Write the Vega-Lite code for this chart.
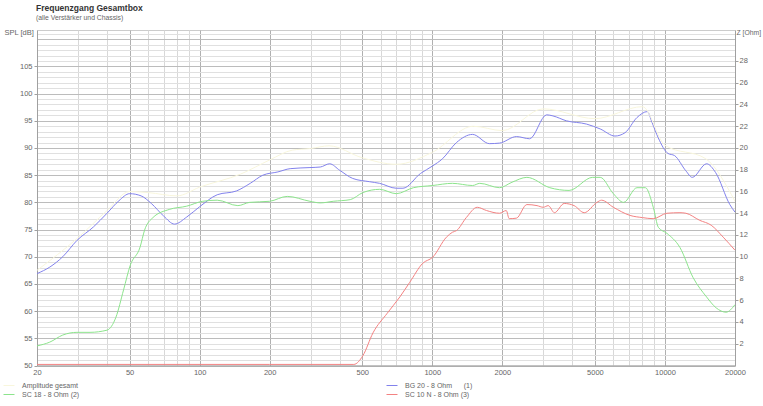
{
  "$schema": "https://vega.github.io/schema/vega-lite/v6.json",
  "width": 698,
  "height": 335.5,
  "autosize": {"type": "none"},
  "padding": {"left": 37, "top": 30, "right": 28, "bottom": 40.5},
  "background": "#ffffff",
  "config": {
    "font": "Liberation Sans",
    "view": {"stroke": "#cccccc", "strokeWidth": 1},
    "axis": {"labelFont": "Liberation Sans", "labelFontSize": 7.5, "labelColor": "#666666", "titleFont": "Liberation Sans", "titleFontWeight": "normal", "titleFontSize": 7.5, "titleColor": "#666666"}
  },
  "title": {
    "text": "Frequenzgang Gesamtbox",
    "subtitle": "(alle Verstärker und Chassis)",
    "anchor": "start",
    "frame": "group",
    "dx": -1,
    "fontSize": 8.5,
    "fontWeight": "bold",
    "color": "#333333",
    "subtitleFontSize": 6.8,
    "subtitleColor": "#666666",
    "subtitlePadding": 3,
    "offset": 6
  },
  "datasets": {
    "curves": [
      {"s": "BG 20 - 8 Ohm\u00a0\u00a0\u00a0\u00a0\u00a0\u00a0(1)", "f": 20, "v": 66.9},
      {"s": "BG 20 - 8 Ohm\u00a0\u00a0\u00a0\u00a0\u00a0\u00a0(1)", "f": 22.7, "v": 68.1},
      {"s": "BG 20 - 8 Ohm\u00a0\u00a0\u00a0\u00a0\u00a0\u00a0(1)", "f": 25.8, "v": 70},
      {"s": "BG 20 - 8 Ohm\u00a0\u00a0\u00a0\u00a0\u00a0\u00a0(1)", "f": 29.7, "v": 73},
      {"s": "BG 20 - 8 Ohm\u00a0\u00a0\u00a0\u00a0\u00a0\u00a0(1)", "f": 35, "v": 75.5},
      {"s": "BG 20 - 8 Ohm\u00a0\u00a0\u00a0\u00a0\u00a0\u00a0(1)", "f": 40, "v": 78},
      {"s": "BG 20 - 8 Ohm\u00a0\u00a0\u00a0\u00a0\u00a0\u00a0(1)", "f": 45, "v": 80.3},
      {"s": "BG 20 - 8 Ohm\u00a0\u00a0\u00a0\u00a0\u00a0\u00a0(1)", "f": 50, "v": 81.6},
      {"s": "BG 20 - 8 Ohm\u00a0\u00a0\u00a0\u00a0\u00a0\u00a0(1)", "f": 56, "v": 81.2},
      {"s": "BG 20 - 8 Ohm\u00a0\u00a0\u00a0\u00a0\u00a0\u00a0(1)", "f": 62, "v": 79.8},
      {"s": "BG 20 - 8 Ohm\u00a0\u00a0\u00a0\u00a0\u00a0\u00a0(1)", "f": 70, "v": 77.5},
      {"s": "BG 20 - 8 Ohm\u00a0\u00a0\u00a0\u00a0\u00a0\u00a0(1)", "f": 78, "v": 76},
      {"s": "BG 20 - 8 Ohm\u00a0\u00a0\u00a0\u00a0\u00a0\u00a0(1)", "f": 88, "v": 77.3},
      {"s": "BG 20 - 8 Ohm\u00a0\u00a0\u00a0\u00a0\u00a0\u00a0(1)", "f": 100, "v": 79.2},
      {"s": "BG 20 - 8 Ohm\u00a0\u00a0\u00a0\u00a0\u00a0\u00a0(1)", "f": 119, "v": 81.4},
      {"s": "BG 20 - 8 Ohm\u00a0\u00a0\u00a0\u00a0\u00a0\u00a0(1)", "f": 144, "v": 82.1},
      {"s": "BG 20 - 8 Ohm\u00a0\u00a0\u00a0\u00a0\u00a0\u00a0(1)", "f": 165, "v": 83.5},
      {"s": "BG 20 - 8 Ohm\u00a0\u00a0\u00a0\u00a0\u00a0\u00a0(1)", "f": 187, "v": 85},
      {"s": "BG 20 - 8 Ohm\u00a0\u00a0\u00a0\u00a0\u00a0\u00a0(1)", "f": 217, "v": 85.6},
      {"s": "BG 20 - 8 Ohm\u00a0\u00a0\u00a0\u00a0\u00a0\u00a0(1)", "f": 245, "v": 86.2},
      {"s": "BG 20 - 8 Ohm\u00a0\u00a0\u00a0\u00a0\u00a0\u00a0(1)", "f": 298, "v": 86.4},
      {"s": "BG 20 - 8 Ohm\u00a0\u00a0\u00a0\u00a0\u00a0\u00a0(1)", "f": 330, "v": 86.5},
      {"s": "BG 20 - 8 Ohm\u00a0\u00a0\u00a0\u00a0\u00a0\u00a0(1)", "f": 362, "v": 87.1},
      {"s": "BG 20 - 8 Ohm\u00a0\u00a0\u00a0\u00a0\u00a0\u00a0(1)", "f": 400, "v": 85.9},
      {"s": "BG 20 - 8 Ohm\u00a0\u00a0\u00a0\u00a0\u00a0\u00a0(1)", "f": 455, "v": 84.4},
      {"s": "BG 20 - 8 Ohm\u00a0\u00a0\u00a0\u00a0\u00a0\u00a0(1)", "f": 538, "v": 83.8},
      {"s": "BG 20 - 8 Ohm\u00a0\u00a0\u00a0\u00a0\u00a0\u00a0(1)", "f": 594, "v": 83.5},
      {"s": "BG 20 - 8 Ohm\u00a0\u00a0\u00a0\u00a0\u00a0\u00a0(1)", "f": 700, "v": 82.6},
      {"s": "BG 20 - 8 Ohm\u00a0\u00a0\u00a0\u00a0\u00a0\u00a0(1)", "f": 748, "v": 82.6},
      {"s": "BG 20 - 8 Ohm\u00a0\u00a0\u00a0\u00a0\u00a0\u00a0(1)", "f": 889, "v": 85.3},
      {"s": "BG 20 - 8 Ohm\u00a0\u00a0\u00a0\u00a0\u00a0\u00a0(1)", "f": 1003, "v": 86.7},
      {"s": "BG 20 - 8 Ohm\u00a0\u00a0\u00a0\u00a0\u00a0\u00a0(1)", "f": 1105, "v": 88},
      {"s": "BG 20 - 8 Ohm\u00a0\u00a0\u00a0\u00a0\u00a0\u00a0(1)", "f": 1270, "v": 91},
      {"s": "BG 20 - 8 Ohm\u00a0\u00a0\u00a0\u00a0\u00a0\u00a0(1)", "f": 1490, "v": 92.5},
      {"s": "BG 20 - 8 Ohm\u00a0\u00a0\u00a0\u00a0\u00a0\u00a0(1)", "f": 1760, "v": 90.8},
      {"s": "BG 20 - 8 Ohm\u00a0\u00a0\u00a0\u00a0\u00a0\u00a0(1)", "f": 1945, "v": 90.9},
      {"s": "BG 20 - 8 Ohm\u00a0\u00a0\u00a0\u00a0\u00a0\u00a0(1)", "f": 2300, "v": 92.1},
      {"s": "BG 20 - 8 Ohm\u00a0\u00a0\u00a0\u00a0\u00a0\u00a0(1)", "f": 2620, "v": 91.7},
      {"s": "BG 20 - 8 Ohm\u00a0\u00a0\u00a0\u00a0\u00a0\u00a0(1)", "f": 3100, "v": 96.1},
      {"s": "BG 20 - 8 Ohm\u00a0\u00a0\u00a0\u00a0\u00a0\u00a0(1)", "f": 3300, "v": 95.9},
      {"s": "BG 20 - 8 Ohm\u00a0\u00a0\u00a0\u00a0\u00a0\u00a0(1)", "f": 3770, "v": 95},
      {"s": "BG 20 - 8 Ohm\u00a0\u00a0\u00a0\u00a0\u00a0\u00a0(1)", "f": 4600, "v": 94.4},
      {"s": "BG 20 - 8 Ohm\u00a0\u00a0\u00a0\u00a0\u00a0\u00a0(1)", "f": 5270, "v": 93.5},
      {"s": "BG 20 - 8 Ohm\u00a0\u00a0\u00a0\u00a0\u00a0\u00a0(1)", "f": 6100, "v": 92.2},
      {"s": "BG 20 - 8 Ohm\u00a0\u00a0\u00a0\u00a0\u00a0\u00a0(1)", "f": 6730, "v": 92.8},
      {"s": "BG 20 - 8 Ohm\u00a0\u00a0\u00a0\u00a0\u00a0\u00a0(1)", "f": 7580, "v": 95.6},
      {"s": "BG 20 - 8 Ohm\u00a0\u00a0\u00a0\u00a0\u00a0\u00a0(1)", "f": 8400, "v": 96.7},
      {"s": "BG 20 - 8 Ohm\u00a0\u00a0\u00a0\u00a0\u00a0\u00a0(1)", "f": 8800, "v": 94.7},
      {"s": "BG 20 - 8 Ohm\u00a0\u00a0\u00a0\u00a0\u00a0\u00a0(1)", "f": 9350, "v": 91.9},
      {"s": "BG 20 - 8 Ohm\u00a0\u00a0\u00a0\u00a0\u00a0\u00a0(1)", "f": 10300, "v": 89},
      {"s": "BG 20 - 8 Ohm\u00a0\u00a0\u00a0\u00a0\u00a0\u00a0(1)", "f": 11000, "v": 88.6},
      {"s": "BG 20 - 8 Ohm\u00a0\u00a0\u00a0\u00a0\u00a0\u00a0(1)", "f": 12300, "v": 85.8},
      {"s": "BG 20 - 8 Ohm\u00a0\u00a0\u00a0\u00a0\u00a0\u00a0(1)", "f": 13100, "v": 84.6},
      {"s": "BG 20 - 8 Ohm\u00a0\u00a0\u00a0\u00a0\u00a0\u00a0(1)", "f": 15100, "v": 87.1},
      {"s": "BG 20 - 8 Ohm\u00a0\u00a0\u00a0\u00a0\u00a0\u00a0(1)", "f": 16500, "v": 85.5},
      {"s": "BG 20 - 8 Ohm\u00a0\u00a0\u00a0\u00a0\u00a0\u00a0(1)", "f": 19000, "v": 79.6},
      {"s": "BG 20 - 8 Ohm\u00a0\u00a0\u00a0\u00a0\u00a0\u00a0(1)", "f": 20000, "v": 78.2},

      {"s": "SC 18 - 8 Ohm (2)", "f": 20, "v": 53.6},
      {"s": "SC 18 - 8 Ohm (2)", "f": 22.7, "v": 54.3},
      {"s": "SC 18 - 8 Ohm (2)", "f": 25.8, "v": 55.6},
      {"s": "SC 18 - 8 Ohm (2)", "f": 29.7, "v": 56.1},
      {"s": "SC 18 - 8 Ohm (2)", "f": 33.8, "v": 56.1},
      {"s": "SC 18 - 8 Ohm (2)", "f": 40, "v": 56.5},
      {"s": "SC 18 - 8 Ohm (2)", "f": 43.7, "v": 58.9},
      {"s": "SC 18 - 8 Ohm (2)", "f": 47.1, "v": 63.9},
      {"s": "SC 18 - 8 Ohm (2)", "f": 50.3, "v": 68.4},
      {"s": "SC 18 - 8 Ohm (2)", "f": 55.5, "v": 71.8},
      {"s": "SC 18 - 8 Ohm (2)", "f": 58, "v": 74.9},
      {"s": "SC 18 - 8 Ohm (2)", "f": 63, "v": 77.2},
      {"s": "SC 18 - 8 Ohm (2)", "f": 74, "v": 78.7},
      {"s": "SC 18 - 8 Ohm (2)", "f": 88, "v": 79.3},
      {"s": "SC 18 - 8 Ohm (2)", "f": 103, "v": 80.2},
      {"s": "SC 18 - 8 Ohm (2)", "f": 119, "v": 80.4},
      {"s": "SC 18 - 8 Ohm (2)", "f": 146, "v": 79.4},
      {"s": "SC 18 - 8 Ohm (2)", "f": 164, "v": 80},
      {"s": "SC 18 - 8 Ohm (2)", "f": 200, "v": 80.2},
      {"s": "SC 18 - 8 Ohm (2)", "f": 238, "v": 81.1},
      {"s": "SC 18 - 8 Ohm (2)", "f": 298, "v": 80.2},
      {"s": "SC 18 - 8 Ohm (2)", "f": 330, "v": 79.9},
      {"s": "SC 18 - 8 Ohm (2)", "f": 375, "v": 80.2},
      {"s": "SC 18 - 8 Ohm (2)", "f": 444, "v": 80.5},
      {"s": "SC 18 - 8 Ohm (2)", "f": 503, "v": 81.8},
      {"s": "SC 18 - 8 Ohm (2)", "f": 594, "v": 82.4},
      {"s": "SC 18 - 8 Ohm (2)", "f": 700, "v": 81.6},
      {"s": "SC 18 - 8 Ohm (2)", "f": 830, "v": 82.7},
      {"s": "SC 18 - 8 Ohm (2)", "f": 1003, "v": 83.1},
      {"s": "SC 18 - 8 Ohm (2)", "f": 1220, "v": 83.5},
      {"s": "SC 18 - 8 Ohm (2)", "f": 1490, "v": 83.1},
      {"s": "SC 18 - 8 Ohm (2)", "f": 1600, "v": 83.5},
      {"s": "SC 18 - 8 Ohm (2)", "f": 1945, "v": 82.7},
      {"s": "SC 18 - 8 Ohm (2)", "f": 2200, "v": 83.7},
      {"s": "SC 18 - 8 Ohm (2)", "f": 2550, "v": 84.6},
      {"s": "SC 18 - 8 Ohm (2)", "f": 3200, "v": 82.7},
      {"s": "SC 18 - 8 Ohm (2)", "f": 3870, "v": 82.2},
      {"s": "SC 18 - 8 Ohm (2)", "f": 4890, "v": 84.6},
      {"s": "SC 18 - 8 Ohm (2)", "f": 5270, "v": 84.6},
      {"s": "SC 18 - 8 Ohm (2)", "f": 6000, "v": 81.6},
      {"s": "SC 18 - 8 Ohm (2)", "f": 6640, "v": 80},
      {"s": "SC 18 - 8 Ohm (2)", "f": 7580, "v": 82.7},
      {"s": "SC 18 - 8 Ohm (2)", "f": 8240, "v": 82.7},
      {"s": "SC 18 - 8 Ohm (2)", "f": 8920, "v": 79},
      {"s": "SC 18 - 8 Ohm (2)", "f": 9370, "v": 75.4},
      {"s": "SC 18 - 8 Ohm (2)", "f": 10200, "v": 74.3},
      {"s": "SC 18 - 8 Ohm (2)", "f": 11600, "v": 71.7},
      {"s": "SC 18 - 8 Ohm (2)", "f": 13200, "v": 66.2},
      {"s": "SC 18 - 8 Ohm (2)", "f": 15100, "v": 62.6},
      {"s": "SC 18 - 8 Ohm (2)", "f": 16600, "v": 60.6},
      {"s": "SC 18 - 8 Ohm (2)", "f": 18300, "v": 59.8},
      {"s": "SC 18 - 8 Ohm (2)", "f": 20000, "v": 61.2},

      {"s": "SC 10 N - 8 Ohm (3)", "f": 20, "v": 50.2},
      {"s": "SC 10 N - 8 Ohm (3)", "f": 200, "v": 50.2},
      {"s": "SC 10 N - 8 Ohm (3)", "f": 460, "v": 50.2},
      {"s": "SC 10 N - 8 Ohm (3)", "f": 503, "v": 51.8},
      {"s": "SC 10 N - 8 Ohm (3)", "f": 556, "v": 56},
      {"s": "SC 10 N - 8 Ohm (3)", "f": 640, "v": 59.6},
      {"s": "SC 10 N - 8 Ohm (3)", "f": 725, "v": 62.6},
      {"s": "SC 10 N - 8 Ohm (3)", "f": 800, "v": 65.3},
      {"s": "SC 10 N - 8 Ohm (3)", "f": 910, "v": 68.8},
      {"s": "SC 10 N - 8 Ohm (3)", "f": 1003, "v": 69.9},
      {"s": "SC 10 N - 8 Ohm (3)", "f": 1150, "v": 73.6},
      {"s": "SC 10 N - 8 Ohm (3)", "f": 1220, "v": 74.5},
      {"s": "SC 10 N - 8 Ohm (3)", "f": 1270, "v": 74.8},
      {"s": "SC 10 N - 8 Ohm (3)", "f": 1400, "v": 77.2},
      {"s": "SC 10 N - 8 Ohm (3)", "f": 1560, "v": 79.1},
      {"s": "SC 10 N - 8 Ohm (3)", "f": 1710, "v": 78.5},
      {"s": "SC 10 N - 8 Ohm (3)", "f": 1945, "v": 78},
      {"s": "SC 10 N - 8 Ohm (3)", "f": 2080, "v": 78.5},
      {"s": "SC 10 N - 8 Ohm (3)", "f": 2140, "v": 77},
      {"s": "SC 10 N - 8 Ohm (3)", "f": 2300, "v": 77.1},
      {"s": "SC 10 N - 8 Ohm (3)", "f": 2550, "v": 79.6},
      {"s": "SC 10 N - 8 Ohm (3)", "f": 2820, "v": 79.4},
      {"s": "SC 10 N - 8 Ohm (3)", "f": 3000, "v": 79.1},
      {"s": "SC 10 N - 8 Ohm (3)", "f": 3150, "v": 79.4},
      {"s": "SC 10 N - 8 Ohm (3)", "f": 3350, "v": 78.1},
      {"s": "SC 10 N - 8 Ohm (3)", "f": 3690, "v": 79.8},
      {"s": "SC 10 N - 8 Ohm (3)", "f": 4070, "v": 79.4},
      {"s": "SC 10 N - 8 Ohm (3)", "f": 4500, "v": 78.1},
      {"s": "SC 10 N - 8 Ohm (3)", "f": 5100, "v": 80},
      {"s": "SC 10 N - 8 Ohm (3)", "f": 5340, "v": 80.4},
      {"s": "SC 10 N - 8 Ohm (3)", "f": 6000, "v": 79.1},
      {"s": "SC 10 N - 8 Ohm (3)", "f": 7080, "v": 77.6},
      {"s": "SC 10 N - 8 Ohm (3)", "f": 8000, "v": 77.2},
      {"s": "SC 10 N - 8 Ohm (3)", "f": 8900, "v": 77},
      {"s": "SC 10 N - 8 Ohm (3)", "f": 10200, "v": 78},
      {"s": "SC 10 N - 8 Ohm (3)", "f": 11600, "v": 78.1},
      {"s": "SC 10 N - 8 Ohm (3)", "f": 12300, "v": 78},
      {"s": "SC 10 N - 8 Ohm (3)", "f": 14100, "v": 76.7},
      {"s": "SC 10 N - 8 Ohm (3)", "f": 15800, "v": 75.8},
      {"s": "SC 10 N - 8 Ohm (3)", "f": 17800, "v": 73.6},
      {"s": "SC 10 N - 8 Ohm (3)", "f": 20000, "v": 71.2},

      {"s": "Amplitude gesamt", "f": 20, "v": 67.5},
      {"s": "Amplitude gesamt", "f": 30, "v": 73.5},
      {"s": "Amplitude gesamt", "f": 40, "v": 78.5},
      {"s": "Amplitude gesamt", "f": 50, "v": 82},
      {"s": "Amplitude gesamt", "f": 60, "v": 81.8},
      {"s": "Amplitude gesamt", "f": 80, "v": 81.2},
      {"s": "Amplitude gesamt", "f": 100, "v": 82.8},
      {"s": "Amplitude gesamt", "f": 150, "v": 85.2},
      {"s": "Amplitude gesamt", "f": 200, "v": 87.8},
      {"s": "Amplitude gesamt", "f": 250, "v": 89.6},
      {"s": "Amplitude gesamt", "f": 300, "v": 89.9},
      {"s": "Amplitude gesamt", "f": 360, "v": 90.4},
      {"s": "Amplitude gesamt", "f": 500, "v": 88.2},
      {"s": "Amplitude gesamt", "f": 700, "v": 87},
      {"s": "Amplitude gesamt", "f": 1000, "v": 89.2},
      {"s": "Amplitude gesamt", "f": 1500, "v": 94},
      {"s": "Amplitude gesamt", "f": 2000, "v": 93.2},
      {"s": "Amplitude gesamt", "f": 3000, "v": 97.2},
      {"s": "Amplitude gesamt", "f": 5000, "v": 95.4},
      {"s": "Amplitude gesamt", "f": 8000, "v": 97.6},
      {"s": "Amplitude gesamt", "f": 10000, "v": 90.5},
      {"s": "Amplitude gesamt", "f": 15000, "v": 88},
      {"s": "Amplitude gesamt", "f": 20000, "v": 80.2}
    ],
    "dummy": [{"z": 0}]
  },
  "layer": [
    {
      "data": {"name": "curves"},
      "mark": {"type": "line", "strokeWidth": 1, "interpolate": "monotone", "clip": true},
      "encoding": {
        "x": {
          "field": "f", "type": "quantitative",
          "scale": {"type": "log", "domain": [20, 20000], "nice": false},
          "axis": {
            "title": null,
            "values": [20,30,40,50,60,70,80,90,100,200,300,400,500,600,700,800,900,1000,2000,3000,4000,5000,6000,7000,8000,9000,10000,20000],
            "format": "d",
            "labelExpr": "indexof([20,50,100,200,500,1000,2000,5000,10000,20000], datum.value) >= 0 ? datum.label : ''",
            "labelPadding": 3,
            "labelFlush": false,
            "labelOverlap": false,
            "ticks": false,
            "domainColor": "#a0a0a0",
            "grid": true,
            "gridColor": {"condition": {"test": "indexof([50,100,200,500,1000,2000,5000,10000], datum.value) >= 0", "value": "#b0b0b0"}, "value": "#d8d8d8"},
            "gridWidth": 1
          }
        },
        "y": {
          "field": "v", "type": "quantitative",
          "scale": {"domain": [50, 111.7], "nice": false, "zero": false},
          "axis": {
            "title": "SPL [dB]",
            "titleAngle": 0,
            "titleAlign": "left",
            "titleBaseline": "middle",
            "titleX": -33,
            "titleY": 2,
            "values": [50,51,52,53,54,55,56,57,58,59,60,61,62,63,64,65,66,67,68,69,70,71,72,73,74,75,76,77,78,79,80,81,82,83,84,85,86,87,88,89,90,91,92,93,94,95,96,97,98,99,100,101,102,103,104,105,106,107,108,109,110,111],
            "labelExpr": "datum.value % 5 == 0 && datum.value <= 105 ? datum.label : ''",
            "labelPadding": 2,
            "labelOverlap": false,
            "labelFlush": false,
            "tickSize": {"condition": {"test": "datum.value % 5 == 0 && datum.value <= 105", "value": 3}, "value": 0},
            "tickColor": "#a0a0a0",
            "domainColor": "#a0a0a0",
            "grid": true,
            "gridColor": {"condition": {"test": "datum.value % 5 == 0", "value": "#bcbcbc"}, "value": "#e0e0e0"},
            "gridWidth": 1
          }
        },
        "color": {
          "field": "s", "type": "nominal",
          "scale": {
            "domain": ["Amplitude gesamt", "BG 20 - 8 Ohm\u00a0\u00a0\u00a0\u00a0\u00a0\u00a0(1)", "SC 18 - 8 Ohm (2)", "SC 10 N - 8 Ohm (3)"],
            "range": ["#f8f6dc", "#8282ec", "#8ce48c", "#f38282"]
          },
          "legend": {
            "title": null,
            "orient": "none",
            "legendX": -34,
            "legendY": 349.5,
            "direction": "horizontal",
            "columns": 2,
            "columnPadding": 304,
            "rowPadding": 0,
            "padding": 0,
            "symbolType": "stroke",
            "symbolSize": 121,
            "symbolStrokeWidth": 1,
            "labelFont": "Liberation Sans",
            "labelFontSize": 7,
            "labelColor": "#666666",
            "labelOffset": 7,
            "labelLimit": 200
          }
        }
      }
    },
    {
      "data": {"name": "dummy"},
      "mark": {"type": "rule", "opacity": 0},
      "encoding": {
        "y": {
          "field": "z", "type": "quantitative",
          "scale": {"domain": [0, 30.85], "nice": false},
          "axis": {
            "orient": "right",
            "title": "Z [Ohm]",
            "titleAngle": 0,
            "titleAlign": "left",
            "titleBaseline": "middle",
            "titleFontSize": 6.8,
            "titleX": 1,
            "titleY": 2,
            "values": [2,4,6,8,10,12,14,16,18,20,22,24,26,28],
            "labelPadding": 1,
            "labelOverlap": false,
            "tickSize": 3,
            "tickColor": "#a0a0a0",
            "domainColor": "#a0a0a0",
            "grid": false
          }
        }
      }
    }
  ],
  "resolve": {"scale": {"y": "independent"}}
}
